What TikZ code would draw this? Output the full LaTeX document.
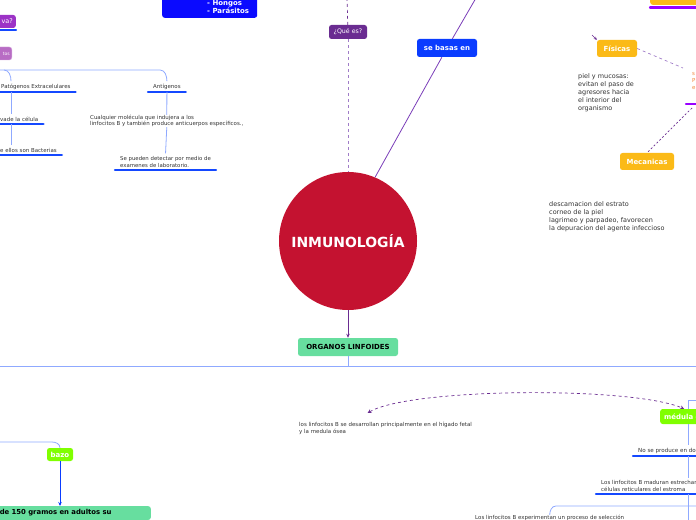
\documentclass[tikz,border=0pt]{standalone}
\usepackage{fontspec}
\setmainfont{DejaVu Sans}
\usetikzlibrary{arrows.meta, positioning}

\definecolor{rojo}{HTML}{C41230}
\definecolor{verde}{HTML}{67DE9F}
\definecolor{lima}{HTML}{80FF00}
\definecolor{naranja}{HTML}{FBBA17}
\definecolor{azul}{HTML}{0A3CFF}
\definecolor{azulosc}{HTML}{0A0AFF}
\definecolor{azulr}{HTML}{1448FF}
\definecolor{celeste}{HTML}{8FA9FF}
\definecolor{morado}{HTML}{6A2C91}
\definecolor{lila}{HTML}{A07CC8}
\definecolor{violeta}{HTML}{9900FF}
\definecolor{moradov}{HTML}{9C33C6}
\definecolor{rosa}{HTML}{B86CC4}
\definecolor{salmon}{HTML}{F0883C}
\definecolor{gris}{HTML}{333333}
\definecolor{linea}{HTML}{7A3DB8}

\begin{document}
\begin{tikzpicture}[x=1bp, y=-1bp,
    caja/.style={rectangle, rounded corners=2.5bp, inner sep=0pt, text=white, font=\bfseries\fontsize{7}{8.5}\selectfont},
    nota/.style={inner sep=0pt, align=left, text=gris, font=\fontsize{5.5}{6.2}\selectfont},
    raya/.style={draw=azulr, line width=2.2bp, line cap=round},
    rayav/.style={draw=violeta, line width=2.4bp, line cap=round},
    subr/.style={nota, inner xsep=5bp, inner ysep=2.5bp,
        append after command={(\tikzlastnode.south west) edge[raya] (\tikzlastnode.south east)}},
    rama/.style={draw=celeste, line width=0.8bp},
    punteada/.style={draw=morado, dashed, line width=0.7bp},
    flecha/.style={-{Stealth[length=4bp, width=3.5bp]}, line width=0.8bp}
]
\useasboundingbox (0,0) rectangle (696,520);
\clip (0,0) rectangle (696,520);

% centro
\node[circle, fill=rojo, minimum size=138bp, inner sep=0pt, text=white,
    font=\bfseries\fontsize{14}{16}\selectfont] (inmu) at (348,241) {INMUNOLOGÍA};
\node[caja, fill=morado, minimum width=38bp, minimum height=14bp,
    font=\fontsize{6.3}{7.5}\selectfont] (que) at (348,32) {¿Qué es?};
\node[caja, fill=azul, minimum width=60bp, minimum height=18bp] (basas) at (447,48) {se basas en};
\node[caja, fill=verde, text=black, minimum width=100bp, minimum height=18bp] (org) at (348,347) {ORGANOS LINFOIDES};
\coordinate (cimaQ) at (347,-2);
\coordinate (cimaB) at (476,-2);
\draw[punteada] (cimaQ) -- (que);
\draw[punteada, draw=lila] (que) -- (inmu);
\draw[draw=linea, line width=0.8bp] (inmu.67) -- (basas);
\draw[draw=linea, line width=0.8bp] (basas) -- (cimaB);
\draw[flecha, draw=morado] (inmu) -- (org);

% arriba a la izquierda
\node[caja, fill=azulosc, minimum width=95bp, minimum height=45bp, anchor=south west] (hongos) at (162,18) {};
\node[caja, anchor=south west, align=left] (hongosTxt) at (207,14) {- Hongos\\- Parásitos};
\node[caja, fill=moradov, anchor=east, text width=24bp, align=right, inner xsep=3bp, minimum height=13bp,
    font=\fontsize{6.5}{7.5}\selectfont] (va) at (16,21.5) {va?};
\draw[raya] ([yshift=-2bp]va.south west) -- ([yshift=-2bp]va.south east);
\node[caja, fill=rosa, draw=rosa!60, anchor=east, text width=20bp, align=right, inner xsep=2bp, minimum height=13bp,
    font=\fontsize{4.5}{5.5}\selectfont] (tos) at (12,53.5) {tos};

\node[subr, anchor=south west] (pat) at (-4,92) {Patógenos Extracelulares};
\node[subr, anchor=south west] (vade) at (-5,124) {vade la célula};
\node[subr, anchor=south west] (ellos) at (-5,155) {e ellos son Bacterias};
\node[subr, anchor=south west] (ant) at (148,92) {Antígenos};
\node[nota, anchor=north west] (cual) at (90,115)
    {Cualquier molécula que indujera a los\\linfocitos B y también produce anticuerpos específicos.,};
\node[subr, anchor=south west, font=\fontsize{5.4}{7}\selectfont] (sep) at (115,170)
    {Se pueden detectar por medio de\\examenes de laboratorio.};
\coordinate (barra) at (-5,70);
\coordinate (eje) at (11,0);
\draw[rama] (barra) -- (160,70) to[out=0, in=90] (ant.north);
\draw[rama] (4,70) to[out=0, in=90] (eje |- pat.north);
\draw[rama] (eje |- pat.south) -- (eje |- vade.north);
\draw[rama] (eje |- vade.south) -- (eje |- ellos.north);
\draw[rama] (ant.south) -- (cual.north);
\draw[rama] (cual.south) -- (sep.north);

% arriba a la derecha
\node[caja, fill=naranja, minimum width=50bp, minimum height=20bp, anchor=south west] (tope) at (650,5) {};
\draw[rayav] (650,7.5) -- (700,7.5);
\node[caja, fill=naranja, minimum width=40bp, minimum height=17bp] (fis) at (617,48.5) {Físicas};
\node[caja, fill=naranja, minimum width=54bp, minimum height=17bp] (mec) at (647,161.5) {Mecanicas};
\node[nota, anchor=north west, text=salmon, font=\fontsize{5.5}{7}\selectfont] (sal) at (692,72) {s\\P\\e};
\draw[rayav] (686,104) -- (700,104);
\coordinate (salIn) at (683,68);
\coordinate (salOut) at (692,108);
\coordinate (fisIn) at (592,35);
\draw[punteada, draw=lila, dash pattern=on 3bp off 3bp] (fis.east) -- (salIn);
\draw[punteada, dash pattern=on 2bp off 2bp] (salOut) -- (mec.north);
\draw[draw=morado, line width=0.6bp, -{Stealth[length=3bp, width=3bp]}] (fisIn) -- (fis.north west);
\node[nota, anchor=north west, font=\fontsize{6.5}{8}\selectfont] (piel) at (578,73.5)
    {piel y mucosas:\\evitan el paso de\\agresores hacia\\el interior del\\organismo};
\node[nota, anchor=north west, font=\fontsize{6.5}{8}\selectfont] (desc) at (549,201.5)
    {descamacion del estrato\\corneo de la piel\\lagrimeo y parpadeo, favorecen\\la depuracion del agente infeccioso};

% abajo
\coordinate (izq) at (-5,366);
\coordinate (der) at (701,366);
\draw[rama] (org.south) -- (348,366);
\draw[rama] (izq) -- (der);

\node[caja, fill=lima, minimum width=26bp, minimum height=13bp] (bazo) at (60,454.5) {bazo};
\node[caja, fill=verde, text=black, anchor=north east, text width=147bp, align=left, inner xsep=4bp,
    inner ysep=3.5bp, font=\bfseries\fontsize{6.9}{8}\selectfont] (gram) at (151,506) {de 150 gramos en adultos su\\[2bp]};
\coordinate (bazoIn) at (-5,442);
\draw[rama] (bazoIn) -- (52,442) to[out=0, in=90] (bazo.north);
\draw[flecha, draw=azul, line width=0.9bp] (bazo.south) -- (bazo |- gram.north);

\node[nota, anchor=north west, font=\fontsize{5.5}{6.8}\selectfont] (hig) at (299,422)
    {los linfocitos B se desarrollan principalmente en el hígado fetal\\y la medula ósea};
\node[caja, fill=lima, anchor=west, text width=40bp, align=left, inner xsep=4bp, minimum height=15bp] (med) at (660,416.5) {médula ó};
\draw[punteada, {Stealth[open, length=4bp, width=4bp]}-{Stealth[length=4bp, width=3.5bp]}]
    ([shift={(-18,-9)}]hig.north) .. controls (410,388) and (630,386) .. (med.north);

\coordinate (eje2) at (688,0);
\coordinate (abajo) at (688,525);
\node[subr, anchor=south west, font=\fontsize{5.6}{6}\selectfont] (nop) at (633,456) {No se produce en do};
\node[subr, anchor=south west, font=\fontsize{5.5}{6.5}\selectfont] (mad) at (596,494)
    {Los linfocitos B maduran estrechan\\células reticulares del estroma};
\node[nota, anchor=north west] (exp) at (475,515)
    {Los linfocitos B experimentan un proceso de selección};
\draw[rama] (700,400) -- (688,400) -- (eje2 |- med.north);
\draw[rama] (eje2 |- med.south) -- (eje2 |- nop.north);
\draw[rama] (eje2 |- nop.south) -- (eje2 |- mad.north);
\draw[rama] (eje2 |- mad.south) -- (abajo);
\draw[rama] (700,506) -- (556,506) to[out=180, in=90] (exp.north);
\end{tikzpicture}
\end{document}
